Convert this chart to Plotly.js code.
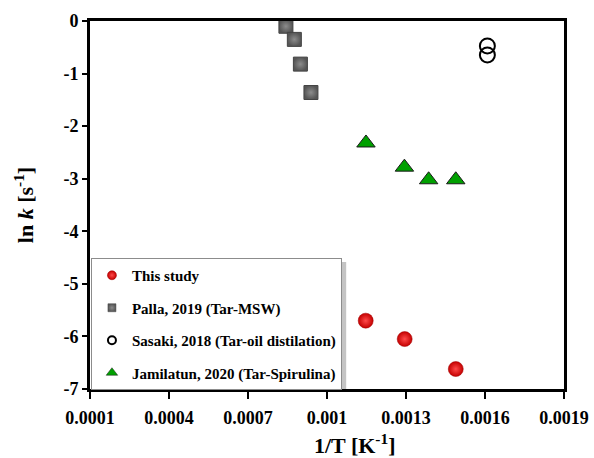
<!DOCTYPE html>
<html>
<head>
<meta charset="utf-8">
<script src="https://cdn.plot.ly/plotly-3.0.1.min.js"></script>
<style>html,body{margin:0;padding:0;background:#fff;}#chart{width:594px;height:458px;}</style>
</head>
<body>
<div id="chart"></div>
<script>
// ---- data ----
var thisStudyX = [0.001147, 0.001295, 0.001489];
var thisStudyY = [-5.70, -6.05, -6.62];

var pallaX = [0.000844, 0.000876, 0.000899, 0.000939];
var pallaY = [-0.10, -0.35, -0.82, -1.36];

var sasakiX = [0.001609, 0.001609];
var sasakiY = [-0.475, -0.646];

var jamilatunX = [0.001148, 0.001294, 0.001386, 0.001489];
var jamilatunY = [-2.32, -2.78, -3.02, -3.02];

var seriesNames = ["This study", "Palla, 2019 (Tar-MSW)", "Sasaki, 2018 (Tar-oil distilation)", "Jamilatun, 2020 (Tar-Spirulina)"];

var xTickVals = [0.0001, 0.0004, 0.0007, 0.0010, 0.0013, 0.0016, 0.0019];
var xTickText = ["0.0001", "0.0004", "0.0007", "0.001", "0.0013", "0.0016", "0.0019"];
var yTickVals = [0, -1, -2, -3, -4, -5, -6, -7];
var yTickText = ["0", "-1", "-2", "-3", "-4", "-5", "-6", "-7"];

// ---- styles ----
var FONT = "Liberation Serif, Times New Roman, serif";
var styles = [
  {symbol: "circle", color: "#c40000", line: {color: "#a00000", width: 0.5}, gradient: {type: "radial", color: "#ff4a4a"}},
  {symbol: "square", color: "#555555", line: {color: "#444444", width: 1}, gradient: {type: "radial", color: "#8c8c8c"}},
  {symbol: "circle-open", color: "#000000", line: {color: "#000000", width: 2}},
  {symbol: "triangle-up", color: "#00a000", line: {color: "#1a1a1a", width: 1}}
];
var sizes = [15, 14, 15, 16];
var legendSizes = [9, 8, 8, 10];
var xs = [thisStudyX, pallaX, sasakiX, jamilatunX];
var ys = [thisStudyY, pallaY, sasakiY, jamilatunY];

var traces = [];
for (var i = 0; i < 4; i++) {
  var st = styles[i];
  var m = {symbol: st.symbol, size: sizes[i], color: st.color, line: st.line};
  if (st.gradient) m.gradient = st.gradient;
  traces.push({x: xs[i], y: ys[i], type: "scatter", mode: "markers", name: seriesNames[i],
    marker: m, showlegend: false, legendgroup: "g" + i, hoverinfo: "x+y"});
}
for (var j = 0; j < 4; j++) {
  var st2 = styles[j];
  var lm = {symbol: st2.symbol, size: legendSizes[j], color: st2.color,
    line: {color: st2.line.color, width: st2.symbol === "circle-open" ? 2 : 0.5}};
  if (st2.gradient) lm.gradient = st2.gradient;
  traces.push({x: [null], y: [null], type: "scatter", mode: "markers", name: seriesNames[j],
    marker: lm, showlegend: true, legendgroup: "g" + j, hoverinfo: "skip"});
}

var layout = {
  width: 594, height: 458,
  margin: {l: 90, r: 30, t: 21, b: 69},
  paper_bgcolor: "#ffffff", plot_bgcolor: "#ffffff",
  font: {family: FONT, color: "#000000", weight: "bold"},
  showlegend: true,
  xaxis: {
    range: [0.0001, 0.0019], tickmode: "array", tickvals: xTickVals, ticktext: xTickText,
    showgrid: false, zeroline: false, showline: true, linecolor: "#000000", linewidth: 3, mirror: true,
    ticks: "outside", ticklen: 7, tickwidth: 2, tickcolor: "#000000", ticklabelstandoff: 3,
    tickfont: {family: FONT, size: 18, color: "#000000", weight: "bold"}
  },
  yaxis: {
    range: [-7, 0], tickmode: "array", tickvals: yTickVals, ticktext: yTickText,
    showgrid: false, zeroline: false, showline: true, linecolor: "#000000", linewidth: 3, mirror: true,
    ticks: "outside", ticklen: 5, tickwidth: 2, tickcolor: "#000000",
    tickfont: {family: FONT, size: 18, color: "#000000", weight: "bold"},
    title: {text: "<b>ln <i>k</i> [s<sup>-1</sup>]</b>", font: {family: FONT, size: 22, color: "#000000"}, standoff: 24}
  },
  legend: {
    x: 0.002, y: 0.356, xanchor: "left", yanchor: "top",
    bgcolor: "#ffffff", bordercolor: "#8c8c8c", borderwidth: 1,
    font: {family: FONT, size: 15, color: "#000000", weight: "bold"},
    traceorder: "grouped", tracegroupgap: 10, itemwidth: 30
  },
  shapes: [
    {type: "rect", xref: "paper", yref: "paper", x0: 0.525, x1: 0.5405, y0: 0.0, y1: 0.345,
     fillcolor: "#c4c4c4", line: {width: 0}, layer: "above"}
  ],
  annotations: [
    {text: "<b>1/T [K<sup>-1</sup>]</b>", xref: "paper", yref: "paper", x: 0.559, y: -0.15,
     xanchor: "center", yanchor: "middle", showarrow: false, font: {family: FONT, size: 22, color: "#000000"}}
  ]
};

Plotly.newPlot("chart", traces, layout, {displayModeBar: false, staticPlot: true});
</script>
</body>
</html>
